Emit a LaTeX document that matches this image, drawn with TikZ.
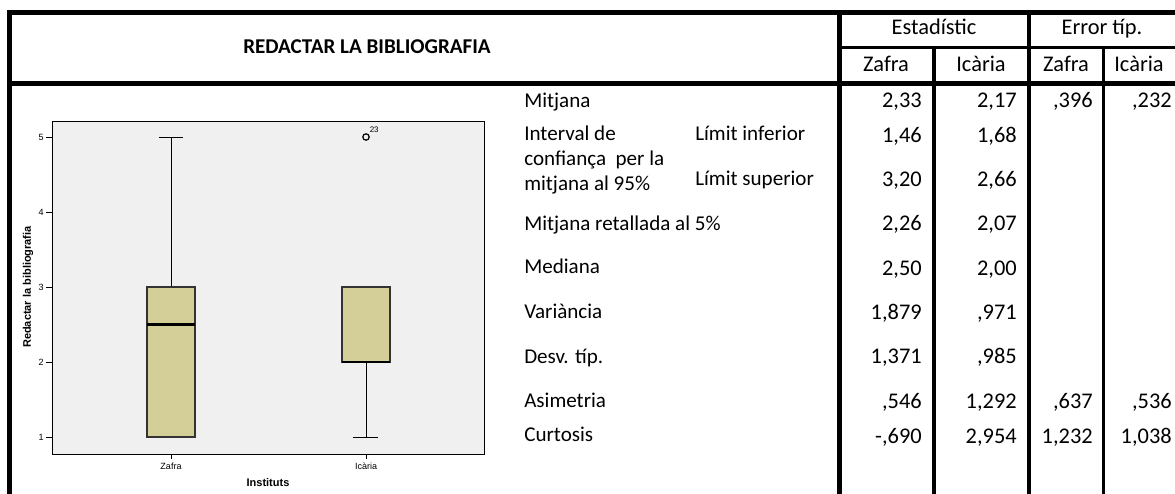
\documentclass[tikz,border=0pt]{standalone}
\usepackage{fontspec}
\setmainfont{Carlito}
\newfontfamily\arialf{Liberation Sans}
\definecolor{boxfill}{RGB}{212,206,152}
\definecolor{plotbg}{RGB}{240,240,240}
\begin{document}
\begin{tikzpicture}[x=0.75pt,y=-0.75pt,
  tbl/.style={font=\fontsize{15.8}{19}\selectfont, inner sep=0pt, text height=11pt, text depth=3pt},
  lbl/.style={tbl, anchor=west},
  num/.style={tbl, anchor=east, font=\fontsize{16.8}{20}\selectfont},
  hdr/.style={tbl, anchor=center, font=\fontsize{16.8}{20}\selectfont},
  rulefive/.style={line width=3.75pt},
  rulefour/.style={line width=3pt},
  rulethree/.style={line width=2.25pt},
  axlbl/.style={font=\arialf\fontsize{6.75}{8}\selectfont, inner sep=0pt},
  axtitle/.style={font=\arialf\bfseries\fontsize{8.25}{10}\selectfont, inner sep=0pt},
  plotframe/.style={draw=black, line width=0.75pt, fill=plotbg},
  boxstyle/.style={draw=black!80, line width=0.9pt, fill=boxfill},
  medline/.style={line width=1.6pt},
  whisk/.style={line width=0.75pt}]
\useasboundingbox (0,0) rectangle (1175,493);

% ---------- table rules ----------
\draw[rulefive] (1180,12.5) -- (9,12.5) -- (9,500);
\draw[rulefive] (9,83.5) -- (1180,83.5);
\draw[rulethree] (839,47) -- (1180,47);
\draw[rulefive] (839,12.5) -- (839,500);
\draw[rulefour] (934,47) -- (934,500);
\draw[rulefour] (1029,12.5) -- (1029,500);
\draw[rulethree] (1103,47) -- (1103,500);

% ---------- header ----------
\node[tbl, font=\bfseries\fontsize{15.8}{19}\selectfont] (title) at (367,48) {REDACTAR LA BIBLIOGRAFIA};
\node[hdr] (hEst) at (934,29) {Estadístic};
\node[hdr] (hErr) at (1102,29) {Error típ.};
\node[hdr] (hZ1) at (886,66) {Zafra};
\node[hdr] (hI1) at (981,66) {Icària};
\node[hdr] (hZ2) at (1066,66) {Zafra};
\node[hdr] (hI2) at (1139,66) {Icària};

% ---------- row labels ----------
\node[lbl] (lMit) at (524,102) {Mitjana};
\node[lbl, align=left, text height=, text depth=, font=\fontsize{15.8}{18.75}\selectfont] (lInt) at (524,160) {Interval de\\confiança\ \ per la\\mitjana al 95\%};
\node[lbl] (lInf) at (695,135) {Límit inferior};
\node[lbl] (lSup) at (695,180) {Límit superior};
\node[lbl] (lRet) at (524,225) {Mitjana retallada al 5\%};
\node[lbl] (lMed) at (524,268) {Mediana};
\node[lbl] (lVar) at (524,313) {Variància};
\node[lbl] (lDes) at (524,358) {Desv. típ.};
\node[lbl] (lAsi) at (524,402) {Asimetria};
\node[lbl] (lCur) at (524,436) {Curtosis};

% ---------- numbers ----------
\node[num] (a1) at (922,102) {2,33};
\node[num] (a2) at (1017,102) {2,17};
\node[num] (a3) at (1093,102) {,396};
\node[num] (a4) at (1172,102) {,232};
\node[num] (b1) at (922,137) {1,46};
\node[num] (b2) at (1017,137) {1,68};
\node[num] (c1) at (922,181) {3,20};
\node[num] (c2) at (1017,181) {2,66};
\node[num] (d1) at (922,225) {2,26};
\node[num] (d2) at (1017,225) {2,07};
\node[num] (e1) at (922,270) {2,50};
\node[num] (e2) at (1017,270) {2,00};
\node[num] (f1) at (922,314) {1,879};
\node[num] (f2) at (1017,314) {,971};
\node[num] (g1) at (922,358) {1,371};
\node[num] (g2) at (1017,358) {,985};
\node[num] (h1) at (922,403) {,546};
\node[num] (h2) at (1017,403) {1,292};
\node[num] (h3) at (1093,403) {,637};
\node[num] (h4) at (1172,403) {,536};
\node[num] (i1) at (922,438) {-,690};
\node[num] (i2) at (1017,438) {2,954};
\node[num] (i3) at (1093,438) {1,232};
\node[num] (i4) at (1172,438) {1,038};

% ---------- box plot ----------
\draw[plotframe] (52,121) rectangle (484,454);
\foreach \v/\yy in {1/437,2/362,3/287,4/212,5/137}{
  \draw[whisk] (46,\yy) -- (52,\yy);
  \node[axlbl, anchor=east] (yt\v) at (44,\yy) {\v};
}
% Zafra
\draw[whisk] (171,287) -- (171,137);
\draw[whisk] (159,137) -- (183,137);
\draw[boxstyle] (147,287) rectangle (195,437);
\draw[medline] (147,324.5) -- (195,324.5);
% Icaria
\draw[whisk] (366,362) -- (366,437);
\draw[whisk] (353,437) -- (378,437);
\draw[boxstyle] (342,287) rectangle (390,362);
\draw[medline] (342,362) -- (390,362);
\draw[line width=0.9pt] (366,137) circle[radius=3.2];
\node[axlbl, anchor=west, font=\arialf\fontsize{6}{7}\selectfont] (out23) at (369.5,130) {23};
% x axis
\draw[whisk] (171,454) -- (171,459);
\draw[whisk] (366,454) -- (366,459);
\node[axlbl] (xZ) at (171,466) {Zafra};
\node[axlbl] (xI) at (366,466) {Icària};
\node[axtitle] (xtitle) at (268,483) {Instituts};
\node[axtitle, rotate=90] (ytitle) at (28,287) {Redactar la bibliografia};
\end{tikzpicture}
\end{document}
